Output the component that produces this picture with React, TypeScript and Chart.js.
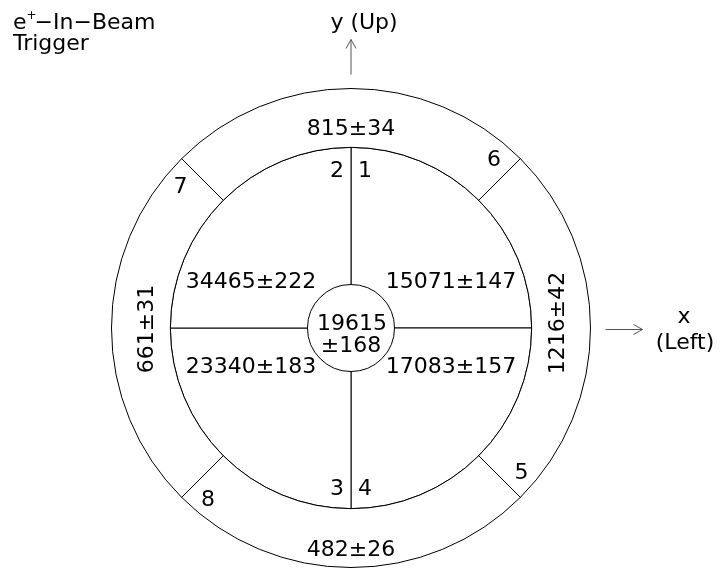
import React, { useEffect, useRef } from 'react';
import { Chart, registerables } from 'chart.js';

Chart.register(...registerables);

// ---- data ----
// outer ring segments, clockwise from the top: top, right, bottom, left
const outerSegmentIds = ['6', '5', '8', '7'];
const outerCounts = [815, 1216, 482, 661];
const outerErrors = [34, 42, 26, 31];
// middle quadrants, clockwise from 12 o'clock: upper-right, lower-right, lower-left, upper-left
const innerSegmentIds = ['1', '4', '3', '2'];
const innerCounts = [15071, 17083, 23340, 34465];
const innerErrors = [147, 157, 183, 222];
// central counter
const centerCount = 19615;
const centerError = 168;
// angular span of every sector (degrees)
const sectorSpanDeg = [90, 90, 90, 90];
// annotations
const triggerTitle = ['e', '+', '−In−Beam', 'Trigger'];
const yAxisLabel = 'y (Up)';
const xAxisLabel = ['x', '(Left)'];

const FONT_FAMILY = '"DejaVu Sans", "Liberation Sans", sans-serif';
const FONT = `22px ${FONT_FAMILY}`;
const CAP = 8; // half of the cap height for 22px DejaVu Sans
const DEG = Math.PI / 180;

const textPlugin = {
  id: 'beamText',
  afterDraw(chart: any) {
    const ctx: CanvasRenderingContext2D = chart.ctx;
    const outerMeta = chart.getDatasetMeta(0);
    const innerMeta = chart.getDatasetMeta(1);
    const first = outerMeta.data[0];
    const cx = first.x;
    const cy = first.y;
    const R = first.outerRadius;

    ctx.save();
    ctx.fillStyle = '#000';
    ctx.font = FONT;
    ctx.textAlign = 'center';
    ctx.textBaseline = 'alphabetic';

    // outer ring
    outerMeta.data.forEach((arc: any, i: number) => {
      const { startAngle, endAngle, innerRadius, outerRadius } = arc.getProps(
        ['startAngle', 'endAngle', 'innerRadius', 'outerRadius'],
        true
      );
      const mid = (startAngle + endAngle) / 2;
      const rm = (innerRadius + outerRadius) / 2;
      const x = cx + rm * Math.cos(mid);
      const y = cy + rm * Math.sin(mid);
      const text = `${outerCounts[i]}±${outerErrors[i]}`;
      const c = Math.cos(mid);
      if (Math.abs(c) > 0.7) {
        ctx.save();
        ctx.translate(x + (c > 0 ? -5 : 4), y + (c > 0 ? -5 : 1));
        ctx.rotate(-Math.PI / 2);
        ctx.fillText(text, 0, CAP);
        ctx.restore();
      } else {
        ctx.fillText(text, x, y + 9.5 + CAP);
      }
      const ang = endAngle - 5 * DEG;
      const rr = outerRadius - 17;
      ctx.fillText(outerSegmentIds[i], cx + rr * Math.cos(ang), cy + rr * Math.sin(ang) + CAP);
    });

    // middle quadrants
    innerMeta.data.forEach((arc: any, i: number) => {
      const { startAngle, endAngle, outerRadius } = arc.getProps(
        ['startAngle', 'endAngle', 'outerRadius'],
        true
      );
      const mid = (startAngle + endAngle) / 2;
      const sx = Math.sign(Math.cos(mid));
      const sy = Math.sign(Math.sin(mid));
      const x = cx + sx * 100;
      const y = cy + (sy < 0 ? -48 : 37);
      ctx.fillText(`${innerCounts[i]}±${innerErrors[i]}`, x, y + CAP);
      const startVertical = Math.abs(Math.cos(startAngle)) < 0.01;
      const ang = startVertical ? startAngle + 5 * DEG : endAngle - 5 * DEG;
      const rr = outerRadius - 21;
      ctx.fillText(innerSegmentIds[i], cx + rr * Math.cos(ang), cy + rr * Math.sin(ang) + CAP);
    });

    // centre
    ctx.fillText(String(centerCount), cx + 1, cy - 6.5 + CAP);
    ctx.fillText(`±${centerError}`, cx, cy + 15.5 + CAP);

    // arrows
    ctx.strokeStyle = '#555';
    ctx.lineWidth = 1;
    ctx.beginPath();
    ctx.moveTo(cx, cy - R - 14);
    ctx.lineTo(cx, cy - R - 49);
    ctx.moveTo(cx - 5, cy - R - 40);
    ctx.lineTo(cx, cy - R - 49);
    ctx.lineTo(cx + 5, cy - R - 40);
    const ay = cy + 1.5;
    ctx.moveTo(cx + R + 15, ay);
    ctx.lineTo(cx + R + 52, ay);
    ctx.moveTo(cx + R + 43, ay - 5);
    ctx.lineTo(cx + R + 52, ay);
    ctx.lineTo(cx + R + 43, ay + 5);
    ctx.stroke();

    // axis labels
    ctx.fillText(yAxisLabel, cx + 13, cy - 299);
    ctx.fillText(xAxisLabel[0], cx + 333, cy - 4.7);
    ctx.fillText(xAxisLabel[1], cx + 334, cy + 21.3);

    // trigger title
    ctx.textAlign = 'left';
    let tx = 13;
    ctx.fillText(triggerTitle[0], tx, 29);
    tx += ctx.measureText(triggerTitle[0]).width;
    ctx.font = `12px ${FONT_FAMILY}`;
    ctx.fillText(triggerTitle[1], tx, 19);
    tx += ctx.measureText(triggerTitle[1]).width - 2;
    ctx.font = FONT;
    ctx.fillText(triggerTitle[2], tx, 29);
    ctx.fillText(triggerTitle[3], 13, 49.5);

    ctx.restore();
  },
};

export default function App() {
  const canvasRef = useRef<HTMLCanvasElement | null>(null);

  useEffect(() => {
    const canvas = canvasRef.current;
    if (!canvas) return;
    const chart = new Chart(canvas, {
      type: 'doughnut',
      data: {
        labels: outerSegmentIds,
        datasets: [
          {
            label: 'outer ring',
            data: sectorSpanDeg,
            rotation: -45,
            weight: 59,
            backgroundColor: '#fff',
            borderColor: '#000',
            borderWidth: 1,
            hoverOffset: 0,
          } as any,
          {
            label: 'quadrants',
            data: sectorSpanDeg,
            rotation: 0,
            weight: 137.5,
            backgroundColor: '#fff',
            borderColor: '#000',
            borderWidth: 1,
            hoverOffset: 0,
          } as any,
        ],
      },
      options: {
        responsive: false,
        maintainAspectRatio: false,
        devicePixelRatio: 1,
        animation: false,
        events: [],
        cutout: 43.5,
        layout: { padding: { left: 111, top: 88, right: 134, bottom: 5 } },
        plugins: {
          legend: { display: false },
          tooltip: { enabled: false },
        },
      },
      plugins: [textPlugin],
    });
    return () => chart.destroy();
  }, []);

  return (
    <div style={{ position: 'absolute', left: 0, top: 0, width: 725, height: 573, background: '#fff' }}>
      <canvas ref={canvasRef} width={725} height={573} />
    </div>
  );
}
